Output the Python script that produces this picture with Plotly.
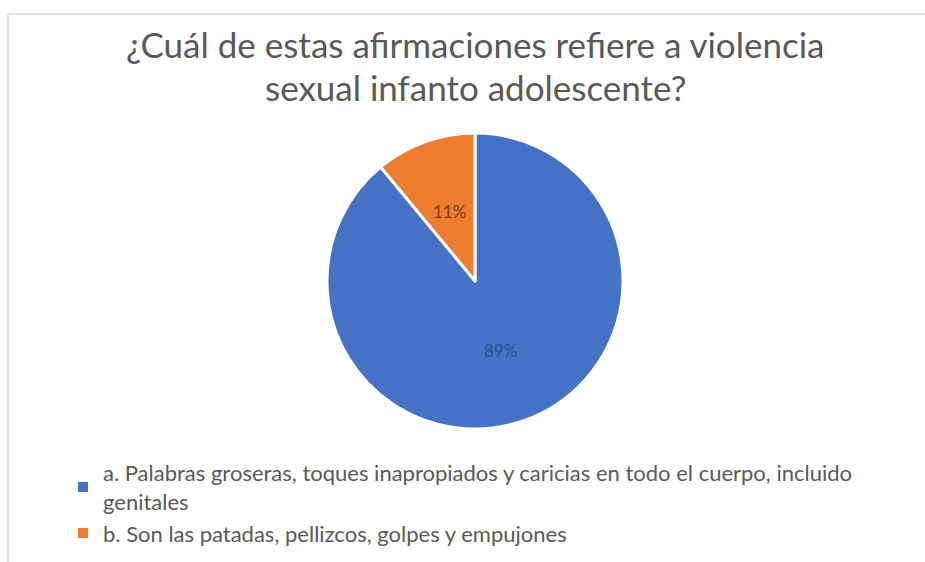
import math
import plotly.graph_objects as go

categories = [
    "a. Palabras groseras, toques inapropiados y caricias en todo el cuerpo, incluido<br>genitales",
    "b. Son las patadas, pellizcos, golpes y empujones",
]
values = [89, 11]
colors = ["#4472C4", "#ED7D31"]
label_colors = ["#2F4F8A", "#7A3C14"]
title_lines = ["¿Cuál de estas afirmaciones refiere a violencia", "sexual infanto adolescente?"]

W, H = 925, 562
cx, cy, r = 475, 281, 148
FONT = "Lato"

fig = go.Figure(go.Pie(
    labels=categories,
    values=values,
    sort=False,
    direction="clockwise",
    rotation=0,
    marker=dict(colors=colors, line=dict(color="white", width=3)),
    textinfo="none",
    domain=dict(x=[(cx - r) / W, (cx + r) / W], y=[1 - (cy + r) / H, 1 - (cy - r) / H]),
    hoverinfo="label+percent",
))

# percent labels at half radius along each slice's mid-angle (Excel style)
total = sum(values)
annotations = []
cum = 0
for v, c in zip(values, label_colors):
    mid = (cum + v / 2) / total * 2 * math.pi  # clockwise from 12 o'clock
    cum += v
    px = cx + 0.5 * r * math.sin(mid)
    py = cy - 0.5 * r * math.cos(mid)
    annotations.append(dict(
        text=f"{round(v / total * 100)}%", x=px / W, y=1 - py / H,
        xref="paper", yref="paper", showarrow=False,
        font=dict(family=FONT, size=17, color=c),
    ))

for line, ypix in zip(title_lines, [44, 87]):
    annotations.append(dict(
        text=line, x=cx / W, y=1 - ypix / H, xref="paper", yref="paper",
        xanchor="center", yanchor="middle", showarrow=False,
        font=dict(family=FONT, size=35, color="#595959"),
    ))

fig.update_layout(
    width=W, height=H,
    margin=dict(l=0, r=0, t=0, b=0),
    paper_bgcolor="white",
    annotations=annotations,
    showlegend=True,
    legend=dict(
        x=63 / W, xanchor="left",
        y=1 - 452 / H, yanchor="top",
        font=dict(family=FONT, size=22, color="#595959"),
        itemsizing="constant",
        tracegroupgap=0,
    ),
    shapes=[
        dict(type="line", xref="paper", yref="paper", x0=8 / W, x1=1, y0=1 - 14 / H, y1=1 - 14 / H,
             line=dict(color="#D9D9D9", width=1.5)),
        dict(type="line", xref="paper", yref="paper", x0=8 / W, x1=8 / W, y0=0, y1=1 - 14 / H,
             line=dict(color="#D9D9D9", width=1.5)),
    ],
)

fig.write_html("out.html", config={"displayModeBar": False})
with open("out.html", encoding="utf-8") as f:
    html = f.read()
html = html.replace("<body>", '<body style="margin:0;padding:0;overflow:hidden">', 1)
with open("out.html", "w", encoding="utf-8") as f:
    f.write(html)
